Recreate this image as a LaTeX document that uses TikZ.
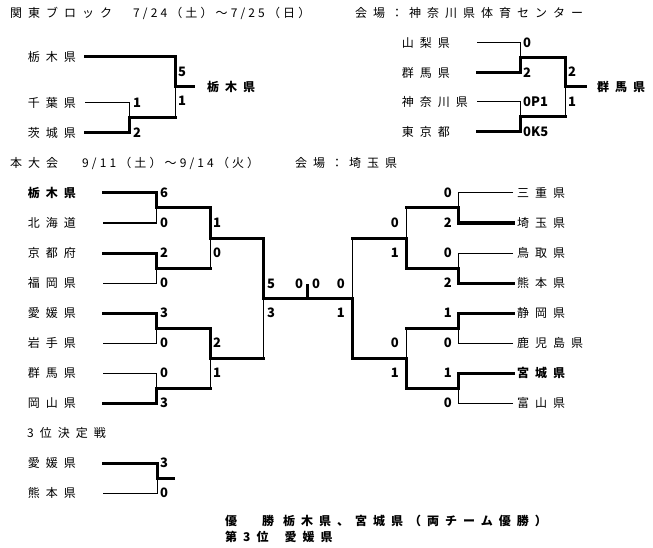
\documentclass[tikz,border=0pt]{standalone}
\usepackage{fontspec}
\usepackage{tikz}
\setmainfont{Noto Sans CJK JP}
\newfontfamily\jp[LetterSpace=50]{Noto Sans CJK JP}
\newfontfamily\jpdate[LetterSpace=26]{Noto Sans CJK JP}
\newfontfamily\scorefont{Noto Sans CJK JP}
\newcommand\jptext{\jp\fontsize{12}{14}\selectfont}
\newcommand\jpbold{\jp\bfseries\fontsize{12}{14}\selectfont}
\newcommand\datetext{\jpdate\fontsize{12}{14}\selectfont}
\newcommand\scoretext{\scorefont\bfseries\fontsize{13}{14}\selectfont}

\begin{document}
\begin{tikzpicture}[x=1pt,y=-1pt]
		\useasboundingbox (0,0) rectangle (653,548);
		\tikzstyle{win}=[line width=3pt,line cap=rect]
		\tikzstyle{lose}=[line width=1pt]
		\tikzstyle{txt}=[anchor=west,inner sep=0pt,font=\jptext]
		\tikzstyle{lname}=[anchor=east,inner sep=0pt,text width=75pt,font=\jptext]
		\tikzstyle{rname}=[anchor=west,inner sep=0pt,inner xsep=4pt,font=\jptext]
		\tikzstyle{wname}=[anchor=west,inner sep=0pt,inner xsep=14pt,font=\jpbold]
		\tikzstyle{sl}=[anchor=west,inner sep=0pt,font=\scoretext]
		\tikzstyle{sr}=[anchor=east,inner sep=0pt,font=\scoretext]
		% titles
		\node[txt] (kt) at (10,13) {関東ブロック};
		\node[txt,font=\datetext] (kd) at (133,13) {7/24（土）～7/25（日）};
		\node[txt] (kv) at (355,13) {会場：神奈川県体育センター};
		\node[txt] (mt) at (10,163) {本大会};
		\node[txt,font=\datetext] (md) at (82,163) {9/11（土）～9/14（火）};
		\node[txt] (mv) at (295,163) {会場：埼玉県};
		\node[txt] (tt) at (27,433) {3位決定戦};
		% kanto block, left
		\node[lname,text width=57pt] (KA) at (85,57) {栃木県};
		\node[lname,text width=57pt] (KB) at (85,103) {千葉県};
		\node[lname,text width=57pt] (KC) at (85,133) {茨城県};
		\coordinate (ka1) at (129,118);
		\coordinate (ka2) at (175,87);
		\node[wname] (KW) at (193,87) {栃木県};
		\draw[lose] (KB.east) -| (ka1);
		\draw[win] (KC.east) -| (ka1);
		\draw[win] (KA.east) -| (ka2);
		\draw[win] (ka1) -- (ka1 -| ka2);
		\draw[lose] (ka1 -| ka2) -- (ka2);
		\draw[win] (ka2) -- (KW.west);
		\node[sl] (ka-s1) at (178,72) {5};
		\node[sl] (ka-s2) at (178,101) {1};
		\node[sl] (ka-s3) at (133,103) {1};
		\node[sl] (ka-s4) at (133,133) {2};
		% kanto block, right
		\node[lname] (KD) at (477,43) {山梨県};
		\node[lname] (KE) at (477,73) {群馬県};
		\node[lname] (KF) at (477,102) {神奈川県};
		\node[lname] (KG) at (477,132) {東京都};
		\coordinate (kb1) at (520,58);
		\coordinate (kb2) at (520,117);
		\coordinate (kb3) at (565,87);
		\node[wname,inner xsep=12pt] (KX) at (585,87) {群馬県};
		\draw[lose] (KD.east) -| (kb1);
		\draw[win] (KE.east) -| (kb1);
		\draw[lose] (KF.east) -| (kb2);
		\draw[win] (KG.east) -| (kb2);
		\draw[win] (kb1) -| (kb3);
		\draw[win] (kb2) -- (kb2 -| kb3);
		\draw[lose] (kb2 -| kb3) -- (kb3);
		\draw[win] (kb3) -- (KX.west);
		\node[sl] (kb-s1) at (523,43) {0};
		\node[sl] (kb-s2) at (523,73) {2};
		\node[sl] (kb-s3) at (523,102) {0P1};
		\node[sl] (kb-s4) at (523,132) {0K5};
		\node[sl] (kb-s5) at (568,72) {2};
		\node[sl] (kb-s6) at (568,102) {1};
		% main, left half
		\node[lname,font=\jpbold] (L1) at (103,193) {栃木県};
		\node[lname] (L2) at (103,223) {北海道};
		\node[lname] (L3) at (103,253) {京都府};
		\node[lname] (L4) at (103,283) {福岡県};
		\node[lname] (L5) at (103,313) {愛媛県};
		\node[lname] (L6) at (103,343) {岩手県};
		\node[lname] (L7) at (103,373) {群馬県};
		\node[lname] (L8) at (103,403) {岡山県};
		\coordinate (m1) at (156,208);
		\coordinate (m2) at (156,268);
		\coordinate (m3) at (156,328);
		\coordinate (m4) at (156,388);
		\coordinate (n1) at (210,238);
		\coordinate (n2) at (210,358);
		\coordinate (s1) at (263,298);
		\draw[win] (L1.east) -| (m1);
		\draw[lose] (L2.east) -| (m1);
		\draw[win] (L3.east) -| (m2);
		\draw[lose] (L4.east) -| (m2);
		\draw[win] (L5.east) -| (m3);
		\draw[lose] (L6.east) -| (m3);
		\draw[lose] (L7.east) -| (m4);
		\draw[win] (L8.east) -| (m4);
		\draw[win] (m1) -| (n1);
		\draw[win] (m2) -- (m2 -| n1);
		\draw[lose] (m2 -| n1) -- (n1);
		\draw[win] (m3) -| (n2);
		\draw[win] (m4) -- (m4 -| n2);
		\draw[lose] (m4 -| n2) -- (n2);
		\draw[win] (n1) -| (s1);
		\draw[win] (n2) -- (n2 -| s1);
		\draw[lose] (n2 -| s1) -- (s1);
		% main, right half
		\node[rname] (R1) at (513,193) {三重県};
		\node[rname] (R2) at (513,223) {埼玉県};
		\node[rname] (R3) at (513,253) {鳥取県};
		\node[rname] (R4) at (513,283) {熊本県};
		\node[rname] (R5) at (513,313) {静岡県};
		\node[rname] (R6) at (513,343) {鹿児島県};
		\node[rname,font=\jpbold] (R7) at (513,373) {宮城県};
		\node[rname] (R8) at (513,403) {富山県};
		\coordinate (r1) at (458,208);
		\coordinate (r2) at (458,268);
		\coordinate (r3) at (458,328);
		\coordinate (r4) at (458,388);
		\coordinate (q1) at (406,238);
		\coordinate (q2) at (406,358);
		\coordinate (s2) at (352,298);
		\draw[lose] (R1.west) -| (r1);
		\draw[win] (R2.west) -| (r1);
		\draw[lose] (R3.west) -| (r2);
		\draw[win] (R4.west) -| (r2);
		\draw[win] (R5.west) -| (r3);
		\draw[lose] (R6.west) -| (r3);
		\draw[win] (R7.west) -| (r4);
		\draw[lose] (R8.west) -| (r4);
		\draw[win] (r1) -- (r1 -| q1);
		\draw[lose] (r1 -| q1) -- (q1);
		\draw[win] (r2) -| (q1);
		\draw[win] (r3) -- (r3 -| q2);
		\draw[lose] (r3 -| q2) -- (q2);
		\draw[win] (r4) -| (q2);
		\draw[win] (q1) -- (q1 -| s2);
		\draw[lose] (q1 -| s2) -- (s2);
		\draw[win] (q2) -| (s2);
		% final
		\coordinate (fin) at (307,285);
		\draw[win] (s1) -- (s2);
		\draw[win] (fin) -- (fin |- s1);
		% scores, left
		\node[sl] (a1) at (160,193) {6};
		\node[sl] (a2) at (160,223) {0};
		\node[sl] (a3) at (160,253) {2};
		\node[sl] (a4) at (160,283) {0};
		\node[sl] (a5) at (160,313) {3};
		\node[sl] (a6) at (160,343) {0};
		\node[sl] (a7) at (160,373) {0};
		\node[sl] (a8) at (160,403) {3};
		\node[sl] (b1) at (213,223) {1};
		\node[sl] (b2) at (213,253) {0};
		\node[sl] (b3) at (213,343) {2};
		\node[sl] (b4) at (213,373) {1};
		\node[sl] (c1) at (267,284) {5};
		\node[sl] (c2) at (267,313) {3};
		\node[sl] (f1) at (295,284) {0};
		\node[sl] (f2) at (312,284) {0};
		% scores, right
		\node[sr] (d1) at (452,193) {0};
		\node[sr] (d2) at (452,223) {2};
		\node[sr] (d3) at (452,253) {0};
		\node[sr] (d4) at (452,283) {2};
		\node[sr] (d5) at (452,313) {1};
		\node[sr] (d6) at (452,343) {0};
		\node[sr] (d7) at (452,373) {1};
		\node[sr] (d8) at (452,403) {0};
		\node[sr] (e1) at (399,223) {0};
		\node[sr] (e2) at (399,253) {1};
		\node[sr] (e3) at (399,343) {0};
		\node[sr] (e4) at (399,373) {1};
		\node[sr] (g1) at (345,284) {0};
		\node[sr] (g2) at (345,313) {1};
		% third place
		\node[lname] (TA) at (103,463) {愛媛県};
		\node[lname] (TB) at (103,493) {熊本県};
		\coordinate (t1) at (157,478);
		\coordinate (tw) at (173,478);
		\draw[win] (TA.east) -| (t1);
		\draw[lose] (TB.east) -| (t1);
		\draw[win] (t1) -- (tw);
		\node[sl] (ta) at (160,463) {3};
		\node[sl] (tb) at (160,493) {0};
		% result
		\node[txt,font=\jpbold] (champ) at (225,521) {優\hspace{25pt}勝\hspace{9pt}栃木県、宮城県（両チーム優勝）};
		\node[txt,font=\jpbold] (third) at (225,537) {第3位\hspace{16pt}愛媛県};
\end{tikzpicture}
\end{document}
